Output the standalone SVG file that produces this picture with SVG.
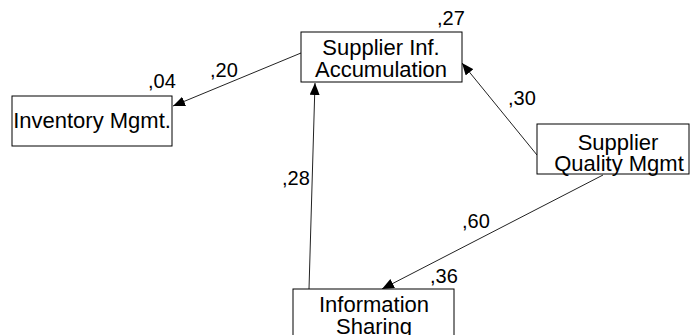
<svg xmlns="http://www.w3.org/2000/svg" width="690" height="335" viewBox="0 0 690 335">
<style>
.box{fill:#fff;stroke:#000;stroke-width:1}
.t{font-family:"Liberation Sans",Arial,sans-serif;font-size:22px;fill:#000;text-anchor:middle}
.n{font-family:"Liberation Sans",Arial,sans-serif;font-size:20px;fill:#000}
.c{stroke:#222;stroke-width:1;fill:none;marker-end:url(#ah)}
</style>
<defs>
<marker id="ah" viewBox="0 0 12 10" refX="12" refY="5" markerWidth="12" markerHeight="10" markerUnits="userSpaceOnUse" orient="auto">
<path d="M0,0 L12,5 L0,10 Z" fill="#000"/>
</marker>
</defs>
<rect width="690" height="335" fill="#fff"/>
<g id="connectors">
<line class="c" x1="301" y1="53" x2="173" y2="106"/>
<line class="c" x1="537" y1="155" x2="462" y2="63"/>
<line class="c" x1="603" y1="175" x2="382" y2="289"/>
<line class="c" x1="309" y1="289" x2="315" y2="83"/>
</g>
<g id="labels">
<text class="n" x="210" y="77">,20</text>
<text class="n" x="508" y="105">,30</text>
<text class="n" x="282" y="185">,28</text>
<text class="n" x="462" y="228">,60</text>
</g>
<g id="sia">
<rect class="box" x="301" y="32" width="161" height="50"/>
<text class="t" x="381" y="55">Supplier Inf.</text>
<text class="t" x="381" y="77">Accumulation</text>
<text class="n" x="437" y="25">,27</text>
</g>
<g id="inv">
<rect class="box" x="12" y="96" width="160" height="50"/>
<text class="t" x="92" y="128">Inventory Mgmt.</text>
<text class="n" x="148" y="88">,04</text>
</g>
<g id="sqm">
<rect class="box" x="537" y="124" width="152" height="50"/>
<text class="t" x="618" y="150">Supplier</text>
<text class="t" x="619" y="171">Quality Mgmt</text>
</g>
<g id="is">
<rect class="box" x="293" y="289" width="161" height="60"/>
<text class="t" x="374" y="312">Information</text>
<text class="t" x="374" y="334">Sharing</text>
<text class="n" x="430" y="283">,36</text>
</g>
</svg>
